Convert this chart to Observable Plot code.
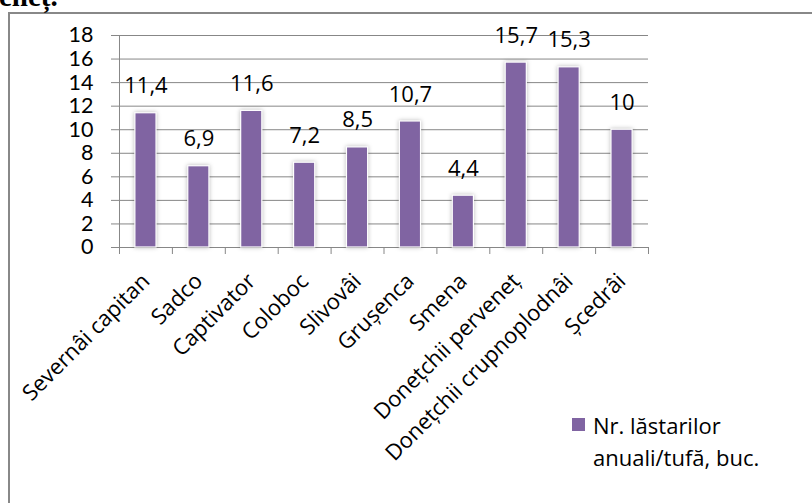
<!DOCTYPE html>
<html>
<head>
<meta charset="utf-8">
<script src="https://cdn.jsdelivr.net/npm/d3@7"></script>
<script src="https://cdn.jsdelivr.net/npm/@observablehq/plot@0.6"></script>
<style>
  html, body { margin: 0; padding: 0; background: #fff; }
  #page { position: relative; width: 812px; height: 503px; overflow: hidden; background: #fff; }
  #page svg { position: absolute; left: 0; top: 0; }
  #heading {
    position: absolute; left: -1px; top: -18px;
    font: bold 29px/29px "Liberation Serif", serif; color: #000; white-space: nowrap;
  }
  #box {
    position: absolute; left: 8px; top: 12px; width: 830px; height: 520px;
    border-left: 2px solid #888; border-top: 2px solid #888;
  }
  #legend {
    position: absolute; left: 572px; top: 409px;
    font: 22px/32px "Open Sans", sans-serif; color: #000;
  }
  #legend .sw {
    position: absolute; left: 0; top: 9px; width: 13px; height: 13px; background: #8064A2;
  }
  #legend .tx { margin-left: 21px; }
  g[aria-label="bar"] rect { filter: drop-shadow(0 0 2px rgba(0,0,0,0.28)); }
</style>
</head>
<body>
<div id="page">
  <div id="box"></div>
  <div id="heading">eneț.</div>
  <div id="legend"><div class="sw"></div><div class="tx">Nr. lăstarilor<br>anuali/tufă, buc.</div></div>
</div>
<script>
// Soiuri și numărul de lăstari anuali pe tufă
const categories = [
  "Severnâi capitan", "Sadco", "Captivator", "Coloboc", "Slivovâi",
  "Grușenca", "Smena", "Donețchii perveneț", "Donețchii crupnoplodnâi", "Șcedrâi"
];
const values = [11.4, 6.9, 11.6, 7.2, 8.5, 10.7, 4.4, 15.7, 15.3, 10];
const yTicks = [0, 2, 4, 6, 8, 10, 12, 14, 16, 18];

const rows = categories.map((c, i) => ({category: c, value: values[i]}));
const fmt = v => String(v).replace(".", ",");

const gray = "#878787";
const purple = "#8064A2";
const font = "22px";
const halfStep = (812 - 119 - 164) / categories.length / 2;

const chart = Plot.plot({
  width: 812,
  height: 503,
  marginTop: 35,
  marginBottom: 256,
  marginLeft: 119,
  marginRight: 164,
  style: {fontFamily: "'Open Sans', sans-serif", fontSize: font, color: "#000", background: "transparent", overflow: "visible"},
  x: {domain: categories, paddingInner: 0.6, paddingOuter: 0.3, round: false, axis: null},
  y: {domain: [0, 18], axis: null, label: null},
  marks: [
    Plot.gridY(yTicks, {stroke: gray, strokeOpacity: 1, strokeWidth: 1}),
    Plot.axisY(yTicks, {tickSize: 8, tickPadding: 18, stroke: gray, strokeOpacity: 1, fill: "#000", label: null, tickFormat: d => String(d), fontSize: "21.5px", fontFamily: "Lato, sans-serif"}),
    Plot.ruleY([0], {stroke: gray, strokeWidth: 1}),
    // vertical axis line and category separators
    Plot.ruleX([categories[0]], {dx: -halfStep, y1: 18, y2: 0, insetBottom: -7, stroke: gray}),
    Plot.ruleX(categories.slice(1), {dx: -halfStep, y1: 0, y2: 0, insetBottom: -7, stroke: gray}),
    Plot.ruleX([categories[categories.length - 1]], {dx: halfStep, y1: 0, y2: 0, insetBottom: -7, stroke: gray}),
    Plot.barY(rows, {x: "category", y: "value", fill: purple, stroke: "#fff", strokeWidth: 1.2}),
    Plot.text(rows, {x: "category", y: "value", text: d => fmt(d.value), dy: -27, lineAnchor: "middle", fontSize: font, fill: "#000"}),
    Plot.text(rows, {x: "category", frameAnchor: "bottom", text: "category", rotate: -45, textAnchor: "end", lineAnchor: "middle", dy: 30, fontSize: font, fill: "#000"})
  ]
});

document.getElementById("page").insertBefore(chart, document.getElementById("legend"));
</script>
</body>
</html>
